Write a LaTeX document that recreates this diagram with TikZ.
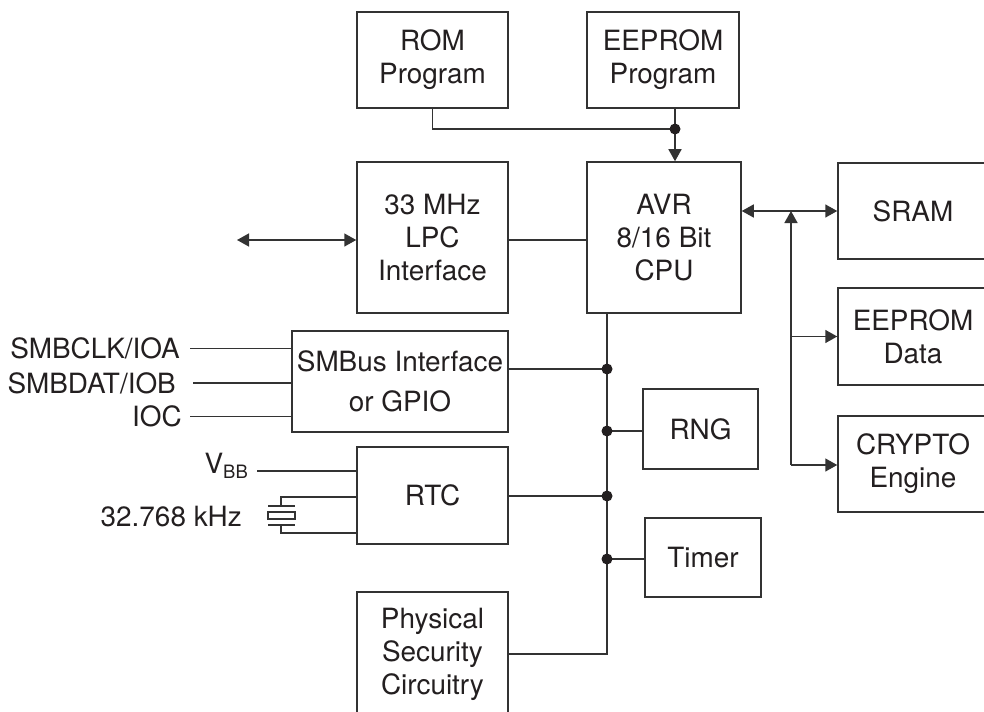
\documentclass[tikz,border=0pt]{standalone}
\usepackage{fontspec}
\setmainfont{TeX Gyre Heros}
\usetikzlibrary{arrows.meta}
\definecolor{ink}{HTML}{231F20}
\definecolor{wire}{HTML}{333333}
\begin{document}
\begin{tikzpicture}[x=1bp,y=-1bp,
  box/.style={draw=wire, line width=1.5bp, inner sep=0pt, align=center,
    font=\fontsize{28}{33}\selectfont, text=ink},
  lbl/.style={font=\fontsize{28}{33}\selectfont, text=ink, inner sep=0pt,
    text height=20bp, text depth=0pt},
  conn/.style={draw=wire, line width=1.5bp},
  tip/.style={-{Triangle[length=12bp,width=13bp]}},
  dtip/.style={{Triangle[length=12bp,width=13bp]}-{Triangle[length=12bp,width=13bp]}},
  dot/.style={circle, fill=ink, inner sep=0pt, minimum size=11bp}
]
\useasboundingbox (0,0) rectangle (984,712);
\clip (0,0) rectangle (984,712);

% boxes
\node[box, minimum width=151bp, minimum height=96bp] (rom) at (432.5,60) {ROM\\Program};
\node[box, minimum width=152bp, minimum height=96bp] (eep) at (663,60) {EEPROM\\Program};
\node[box, minimum width=151bp, minimum height=151bp] (lpc) at (432.5,237.5) {33 MHz\\LPC\\Interface};
\node[box, minimum width=154bp, minimum height=151bp] (cpu) at (664,237.5) {AVR\\8/16 Bit\\CPU};
\node[box, minimum width=150bp, minimum height=96bp] (sram) at (913,211) {SRAM};
\node[box, minimum width=150bp, minimum height=97bp] (edat) at (913,336.5) {EEPROM\\Data};
\node[box, minimum width=150bp, minimum height=96bp] (cry) at (913,464) {CRYPTO\\Engine};
\node[box, minimum width=216bp, minimum height=101bp] (smb) at (400,381.5) {SMBus Interface\\[7bp]or GPIO};
\node[box, minimum width=115bp, minimum height=80bp] (rng) at (700.5,429) {RNG};
\node[box, minimum width=151bp, minimum height=97bp] (rtc) at (432.5,495.5) {RTC};
\node[box, minimum width=116bp, minimum height=79bp] (tmr) at (703,557.5) {Timer};
\node[box, minimum width=151bp, minimum height=124bp] (phy) at (432.5,654) {Physical\\Security\\Circuitry};

% program memories to CPU
\coordinate (j1) at (675,129);
\draw[conn] (rom.south) |- (j1);
\draw[conn] (eep.south -| j1) -- (j1);
\draw[conn, tip] (j1) -- (j1 |- cpu.north);
\node[dot] at (j1) {};

% LPC
\coordinate (ext) at (237,240);
\draw[conn, dtip] (ext) -- (ext -| lpc.west);
\draw[conn] (lpc.east |- ext) -- (cpu.west |- ext);

% internal bus
\coordinate (bx) at (607,313);
\coordinate (bend) at (607,654);
\coordinate (d1) at (607,369);
\coordinate (d2) at (607,431);
\coordinate (d3) at (607,496);
\coordinate (d4) at (607,559);
\draw[conn] (cpu.south -| bx) -- (bend) -- (bend -| phy.east);
\draw[conn] (smb.east |- d1) -- (d1);
\draw[conn] (d2) -- (rng.west |- d2);
\draw[conn] (rtc.east |- d3) -- (d3);
\draw[conn] (d4) -- (tmr.west |- d4);
\foreach \d in {d1,d2,d3,d4} \node[dot] at (\d) {};

% data bus
\coordinate (rt) at (791,211);
\coordinate (rb) at (791,465);
\draw[conn, dtip] (cpu.east |- rt) -- (sram.west |- rt);
\draw[conn, tip] (rb) -- (rt);
\draw[conn, tip] (rb |- edat.west) -- (edat.west);
\draw[conn, tip] (rb) -- (cry.west |- rb);

% SMBus pins
\node[lbl, anchor=east] (sclk) at (180,348.5) {SMBCLK/IOA};
\node[lbl, anchor=east] (sdat) at (176,383) {SMBDAT/IOB};
\node[lbl, anchor=east] (ioc) at (182,416.5) {IOC};
\draw[conn] ([xshift=10bp]sclk.east) -- (sclk.east -| smb.west);
\draw[conn] ([xshift=17bp]sdat.east) -- (sdat.east -| smb.west);
\draw[conn] ([xshift=8bp]ioc.east) -- (ioc.east -| smb.west);

% RTC inputs
\node[anchor=base east, inner sep=0pt, text=ink, font=\fontsize{28}{33}\selectfont] (vbb) at (248,473)
  {V\raisebox{-5bp}{\fontsize{18.5}{18.5}\selectfont BB}};
\draw[conn] ([xshift=9bp,yshift=2bp]vbb.base east) -- ([yshift=2bp]vbb.base east -| rtc.west);
\node[lbl, anchor=east] (xtal) at (242,516.5) {32.768 kHz};
\coordinate (xt) at (281,497);
\coordinate (xb) at (281,533);
\draw[conn] (281,506) -- (xt) -- (xt -| rtc.west);
\draw[conn] (281,525) -- (xb) -- (xb -| rtc.west);
\draw[conn] (268,506) -- (295,506);
\draw[conn] (268,525) -- (295,525);
\draw[conn] (268,512) rectangle (295,519);
\end{tikzpicture}
\end{document}
